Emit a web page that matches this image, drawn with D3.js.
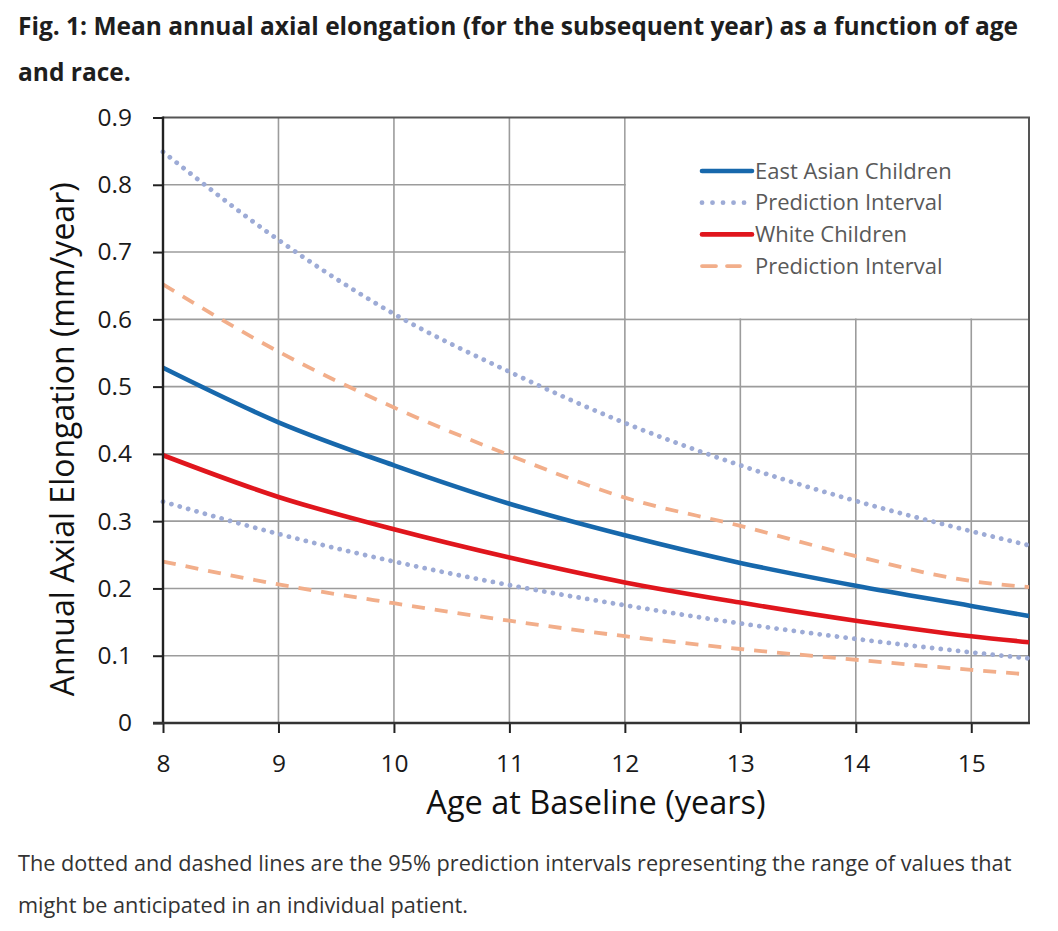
<!DOCTYPE html>
<html>
<head>
<meta charset="utf-8">
<script src="https://cdn.jsdelivr.net/npm/d3@7"></script>
<style>
  body { margin: 0; background: #fff; }
  svg { display: block; }
</style>
</head>
<body>
<div id="chart"></div>
<script>
// Mean annual axial elongation by age and race, with 95% prediction intervals
const ages = [8, 9, 10, 11, 12, 13, 14, 15, 15.5];
const eastAsian      = [0.528, 0.447, 0.383, 0.326, 0.279, 0.238, 0.204, 0.174, 0.159];
const eastAsianUpper = [0.849, 0.718, 0.608, 0.522, 0.446, 0.383, 0.330, 0.285, 0.264];
const eastAsianLower = [0.329, 0.281, 0.240, 0.205, 0.175, 0.148, 0.125, 0.105, 0.096];
const white          = [0.398, 0.336, 0.288, 0.246, 0.209, 0.179, 0.152, 0.129, 0.120];
const whiteUpper     = [0.652, 0.552, 0.469, 0.398, 0.335, 0.293, 0.248, 0.211, 0.202];
const whiteLower     = [0.240, 0.206, 0.178, 0.152, 0.129, 0.110, 0.094, 0.079, 0.072];

const xTicks = [8, 9, 10, 11, 12, 13, 14, 15];
const yTicks = [0, 0.1, 0.2, 0.3, 0.4, 0.5, 0.6, 0.7, 0.8, 0.9];

const titleLines = [
    "Fig. 1: Mean annual axial elongation (for the subsequent year) as a function of age",
    "and race."
];
const captionLines = [
    "The dotted and dashed lines are the 95% prediction intervals representing the range of values that",
    "might be anticipated in an individual patient."
];

const W = 1058, H = 931;
const plot = { left: 163, right: 1029, top: 117.5, bottom: 723 };

const svg = d3.select("#chart")
    .append("svg")
    .attr("width", W)
    .attr("height", H);

svg.append("rect").attr("width", W).attr("height", H).attr("fill", "#fff");

const x = d3.scaleLinear().domain([8, 15.5]).range([plot.left, plot.right]);
const y = d3.scaleLinear().domain([0, 0.9]).range([plot.bottom, plot.top]);

const chartFont = "'Open Sans', sans-serif";

// Title
svg.append("g")
    .selectAll("text")
    .data(titleLines)
    .enter()
    .append("text")
    .attr("x", 18)
    .attr("y", (d, i) => 35 + i * 46)
    .attr("font-family", "'Open Sans', sans-serif")
    .attr("font-weight", "bold")
    .attr("font-size", "24.5px")
    .attr("fill", "#1e1e1e")
    .text(d => d);

// Grid
const grid = svg.append("g");
grid.selectAll(".hgrid")
    .data(yTicks.filter(v => v > 0 && v < 0.9))
    .enter()
    .append("line")
    .attr("x1", plot.left).attr("x2", plot.right)
    .attr("y1", d => y(d)).attr("y2", d => y(d))
    .attr("stroke", "#9c9c9c")
    .attr("stroke-width", 1.6);

grid.selectAll(".vgrid")
    .data(xTicks.filter(v => v > 8))
    .enter()
    .append("line")
    .attr("y1", plot.top).attr("y2", plot.bottom)
    .attr("x1", d => x(d)).attr("x2", d => x(d))
    .attr("stroke", "#9c9c9c")
    .attr("stroke-width", 1.6);

// Legend background hides the grid in the top-right corner
svg.append("rect")
    .attr("x", x(12) + 1)
    .attr("y", y(0.9))
    .attr("width", x(15.5) - x(12) - 1)
    .attr("height", y(0.6) - y(0.9) - 1)
    .attr("fill", "#fff");

// Frame (top and right)
svg.append("path")
    .attr("d", `M${plot.left},${plot.top}H${plot.right}V${plot.bottom}`)
    .attr("fill", "none")
    .attr("stroke", "#555")
    .attr("stroke-width", 2);

// Series
const line = d3.line()
    .x((d, i) => x(ages[i]))
    .y(d => y(d))
    .curve(d3.curveMonotoneX);

const dotted = { stroke: "#9dabd6", width: 4.8, dash: "0.01,8.7", cap: "round" };
const dashed = { stroke: "#f2ae8a", width: 3.8, dash: "13,10", cap: "butt" };
const solidBlue = { stroke: "#1768ac", width: 4.6, dash: null, cap: "butt" };
const solidRed = { stroke: "#e0161d", width: 4.6, dash: null, cap: "butt" };

const series = [
    { values: whiteLower, style: dashed },
    { values: whiteUpper, style: dashed },
    { values: eastAsianLower, style: dotted },
    { values: eastAsianUpper, style: dotted },
    { values: white, style: solidRed },
    { values: eastAsian, style: solidBlue }
];

svg.append("g")
    .selectAll("path")
    .data(series)
    .enter()
    .append("path")
    .attr("fill", "none")
    .attr("d", d => line(d.values))
    .attr("stroke", d => d.style.stroke)
    .attr("stroke-width", d => d.style.width)
    .attr("stroke-dasharray", d => d.style.dash)
    .attr("stroke-linecap", d => d.style.cap);

// Axes
const yAxis = svg.append("g")
    .attr("transform", `translate(${plot.left},0)`)
    .call(d3.axisLeft(y).tickValues(yTicks).tickSize(10).tickPadding(21)
        .tickFormat(d => d === 0 ? "0" : d3.format(".1f")(d)));

const xAxis = svg.append("g")
    .attr("transform", `translate(0,${plot.bottom})`)
    .call(d3.axisBottom(x).tickValues(xTicks).tickSize(10).tickPadding(22));

[yAxis, xAxis].forEach(ax => {
    ax.select(".domain").remove();
    ax.selectAll(".tick line").attr("stroke", "#222").attr("stroke-width", 2);
    ax.selectAll(".tick text")
        .attr("font-family", chartFont)
        .attr("font-size", "24.5px")
        .attr("fill", "#1a1a1a");
});

svg.append("line")
    .attr("x1", plot.left).attr("x2", plot.left)
    .attr("y1", plot.top - 1).attr("y2", plot.bottom + 1)
    .attr("stroke", "#222").attr("stroke-width", 2.4);
svg.append("line")
    .attr("x1", plot.left - 10).attr("x2", plot.right + 1)
    .attr("y1", plot.bottom).attr("y2", plot.bottom)
    .attr("stroke", "#333").attr("stroke-width", 2.4);

// Axis titles
svg.append("text")
    .attr("transform", `translate(74,${(plot.top + plot.bottom) / 2 + 19}) rotate(-90)`)
    .attr("text-anchor", "middle")
    .attr("font-family", chartFont)
    .attr("font-size", "32px")
    .attr("fill", "#111")
    .text("Annual Axial Elongation (mm/year)");

svg.append("text")
    .attr("x", (plot.left + plot.right) / 2)
    .attr("y", 814)
    .attr("text-anchor", "middle")
    .attr("font-family", chartFont)
    .attr("font-size", "32.5px")
    .attr("fill", "#111")
    .text("Age at Baseline (years)");

// Legend
const legendItems = [
    { label: "East Asian Children", style: solidBlue, len: 52, dash: null },
    { label: "Prediction Interval", style: dotted, len: 52, dash: "0.01,10.5" },
    { label: "White Children", style: solidRed, len: 52, dash: null },
    { label: "Prediction Interval", style: dashed, len: 40, dash: "14,11" }
];

const legend = svg.append("g").attr("transform", "translate(700,171)");
legendItems.forEach((it, i) => {
    const g = legend.append("g").attr("transform", `translate(0,${i * 31.7})`);
    g.append("line")
        .attr("x1", 2).attr("x2", it.len)
        .attr("y1", 0).attr("y2", 0)
        .attr("stroke", it.style.stroke)
        .attr("stroke-width", it.style.width)
        .attr("stroke-dasharray", it.dash)
        .attr("stroke-linecap", "round");
    g.append("text")
        .attr("x", 55)
        .attr("y", 7.5)
        .attr("font-family", chartFont)
        .attr("font-size", "22px")
        .attr("fill", "#595959")
        .text(it.label);
});

// Caption
svg.append("g")
    .selectAll("text")
    .data(captionLines)
    .enter()
    .append("text")
    .attr("x", 18)
    .attr("y", (d, i) => 871 + i * 42)
    .attr("font-family", "'Open Sans', sans-serif")
    .attr("font-size", "21.7px")
    .attr("fill", "#333")
    .text(d => d);
</script>
</body>
</html>
